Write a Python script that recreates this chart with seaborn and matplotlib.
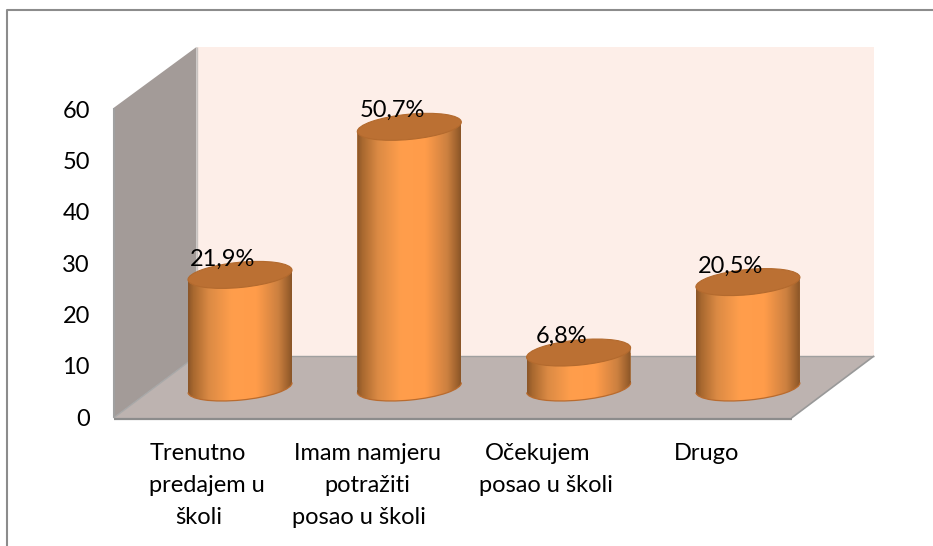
import numpy as np
import pandas as pd
import matplotlib
matplotlib.use("Agg")
import matplotlib.pyplot as plt
import seaborn as sns
from matplotlib.colors import LinearSegmentedColormap
from matplotlib.lines import Line2D
from matplotlib.patches import Polygon, Ellipse, PathPatch
from matplotlib.path import Path
from matplotlib.transforms import Affine2D, IdentityTransform

categories = ["Trenutno\n   predajem u\nškoli", "Imam namjeru\npotražiti\nposao u školi   ",
              "Očekujem\n   posao u školi", "Drugo"]
values = [21.9, 50.7, 6.8, 20.5]
value_labels = ["21,9%", "50,7%", "6,8%", "20,5%"]
y_ticks = [0, 10, 20, 30, 40, 50, 60]

W, H = 933, 546
sns.set_theme(style="white")
plt.rcParams["font.family"] = ["Lato", "DejaVu Sans"]
FS = 17

fig = plt.figure(figsize=(W / 100, H / 100), dpi=100, facecolor="white")


def P(x, y):
    return (x / W, 1 - y / H)


def box(left, right, top, bottom):
    return [left / W, 1 - bottom / H, (right - left) / W, (bottom - top) / H]


def poly(pts, color):
    fig.add_artist(Polygon([P(*p) for p in pts], closed=True, transform=fig.transFigure,
                           facecolor=color, edgecolor="none", zorder=-2))


def line(pts, color, lw):
    xs, ys = zip(*[P(*p) for p in pts])
    fig.add_artist(Line2D(xs, ys, transform=fig.transFigure, color=color, lw=lw, zorder=-1,
                          solid_capstyle="butt"))


# chart frame (only top and left edges are inside the picture)
line([(7, 546), (7, 10), (933, 10)], "#8C8C8C", 1.5)

# 3D walls
poly([(196.5, 47), (874, 47), (874, 356), (196.5, 356)], "#FDEEE8")
poly([(113.5, 108), (196.5, 47), (196.5, 356), (113.5, 418)], "#A39B98")
poly([(113.5, 418), (196.5, 356), (874, 356), (791.5, 418)], "#BDB3B0")
line([(113.5, 108), (113.5, 418)], "#A0A0A0", 1.5)
line([(196.5, 47), (196.5, 356)], "#C9C2BF", 1)
line([(113.5, 418), (196.5, 356)], "#A8A8A8", 1)
line([(196.5, 356), (874, 356)], "#A0A0A0", 1)
line([(874, 356), (791.5, 418)], "#999999", 1.2)
line([(113.5, 419), (791.5, 419)], "#8C8C8C", 1.6)

# front plane: the value and category axes
axf = fig.add_axes(box(113.5, 791.5, 109, 417), facecolor="none")
axf.set_xlim(-0.5, 3.5)
axf.set_ylim(0, 60)
axf.set_xticks(range(len(categories)))
axf.set_xticklabels(categories, fontsize=FS, color="black", linespacing=1.66)
axf.set_yticks(y_ticks)
axf.set_yticklabels([str(t) for t in y_ticks], fontsize=FS, color="black")
axf.tick_params(axis="x", length=0, pad=18.5)
axf.tick_params(axis="y", length=0, pad=17)
for sp in axf.spines.values():
    sp.set_visible(False)

# mid-depth plane: the cylinders
ax = fig.add_axes(box(155.35, 832.55, 79, 421), facecolor="none")
df = pd.DataFrame({"category": categories, "value": values})
sns.barplot(data=df, x="category", y="value", ax=ax, color="#D88A42", saturation=1,
            width=104 / 169.3, legend=False)
ax.set_xlim(-0.5, 3.5)
ylim = (-(421 - 387.5) / 5.14, 60)
ax.set_ylim(*ylim)
ax.axis("off")

cyl = LinearSegmentedColormap.from_list("cyl", [
    (0.00, "#8A5528"), (0.05, "#A8682F"), (0.20, "#DB8A44"), (0.42, "#FF9E4C"),
    (0.66, "#FF9C4A"), (0.87, "#CC8040"), (0.96, "#A0632E"), (1.00, "#8A5528")])
ramp = np.linspace(0, 1, 256).reshape(1, -1)

tilt = 5.5
b = 12.6
c, s = np.cos(np.radians(tilt)), np.sin(np.radians(tilt))
for bar, val, txt in zip(list(ax.patches), values, value_labels):
    x0, wd = bar.get_x(), bar.get_width()
    xc = x0 + wd / 2
    cx, y0 = ax.transData.transform((xc, 0))
    _, y1 = ax.transData.transform((xc, val))
    a = (ax.transData.transform((x0 + wd, 0))[0] - ax.transData.transform((x0, 0))[0]) / 2
    dx, dy = a, a * s / c
    quad = Path([(cx - dx, y0 - dy), (cx + dx, y0 + dy), (cx + dx, y1 + dy), (cx - dx, y1 - dy),
                 (cx - dx, y0 - dy)], closed=True)
    place = Affine2D().scale(a / c, b).rotate_deg(tilt).translate(cx, y0)
    ell = Path.unit_circle().transformed(place)
    body = Path.make_compound_path(quad, ell)
    bar.set_clip_path(body, IdentityTransform())
    bar.set_edgecolor("none")
    im = ax.imshow(ramp, cmap=cyl, aspect="auto", extent=(x0, x0 + wd, ylim[0], val + 4),
                   vmin=0, vmax=1, zorder=3, interpolation="bilinear")
    im.set_clip_path(body, IdentityTransform())
    # front half of the base rim only
    rim = Path.arc(180, 360).transformed(place)
    ax.add_patch(PathPatch(rim, transform=IdentityTransform(), facecolor="none",
                           edgecolor="#B96B2E", lw=0.9, zorder=3.2, clip_on=False))
    ax.add_patch(Ellipse((0, 0), 2 * a / c, 2 * b, angle=tilt,
                         transform=Affine2D().translate(cx, y1), facecolor="#BB7033",
                         edgecolor="#B36A2E", lw=0.8, zorder=4, clip_on=False))
    ax.annotate(txt, xy=(xc, val), xytext=(-17 * 0.72, 16 * 0.72), textcoords="offset points",
                ha="center", va="center", fontsize=FS, color="black", zorder=5)
ax.set_xlim(-0.5, 3.5)
ax.set_ylim(*ylim)

fig.savefig("out.png", dpi=100, facecolor="white")
